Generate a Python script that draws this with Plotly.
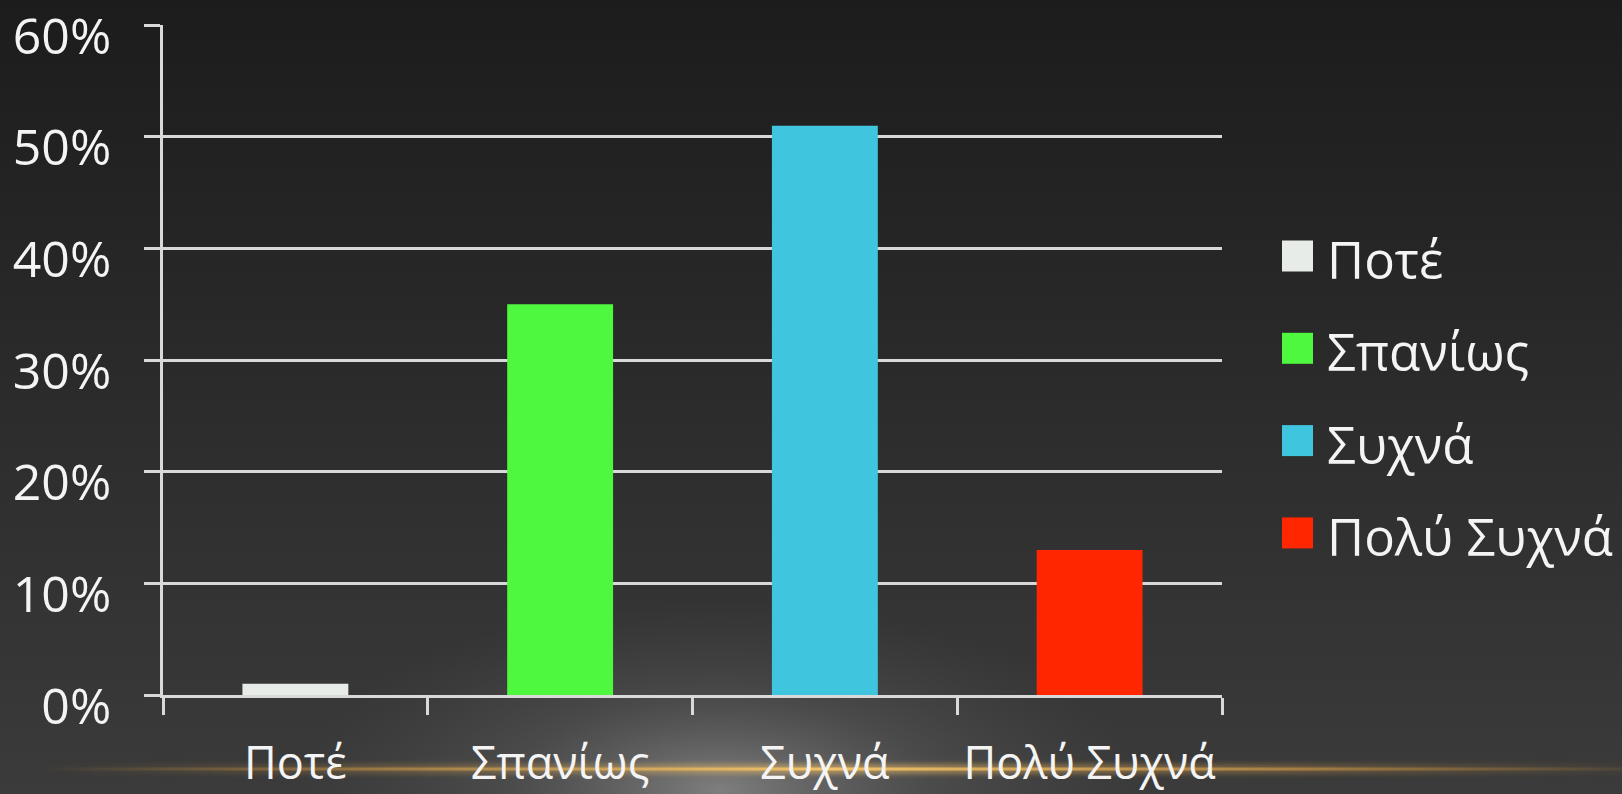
import base64
import plotly.graph_objects as go

# ---- data ----
categories = ["Ποτέ", "Σπανίως", "Συχνά", "Πολύ Συχνά"]
values = [0.01, 0.35, 0.51, 0.13]
colors = ["#e8ece8", "#4ef83e", "#40c5de", "#ff2600"]
y_ticks = [0, 0.1, 0.2, 0.3, 0.4, 0.5, 0.6]

W, H = 1622, 794
L, R, T, B = 163, 400, 25, 99
PW, PH = W - L - R, H - T - B

FONT = "Open Sans, Noto Sans, DejaVu Sans, sans-serif"
TXT = "#f4f4f4"
LINE = "#d9d9d9"

# ---- background (svg gradient) ----
svg = f'''<svg xmlns="http://www.w3.org/2000/svg" width="{W}" height="{H}" viewBox="0 0 {W} {H}">
<defs>
<linearGradient id="v" x1="0" y1="0" x2="0" y2="1">
<stop offset="0" stop-color="#1c1c1c"/>
<stop offset="0.55" stop-color="#2d2d2d"/>
<stop offset="1" stop-color="#3b3b3b"/>
</linearGradient>
<radialGradient id="g" cx="720" cy="790" r="420" gradientUnits="userSpaceOnUse" gradientTransform="translate(720 790) scale(1 0.45) translate(-720 -790)">
<stop offset="0" stop-color="#8a8a8a" stop-opacity="0.85"/>
<stop offset="0.5" stop-color="#6a6a6a" stop-opacity="0.35"/>
<stop offset="1" stop-color="#555555" stop-opacity="0"/>
</radialGradient>
<linearGradient id="s" x1="0" y1="0" x2="1" y2="0">
<stop offset="0" stop-color="#c08a3a" stop-opacity="0"/>
<stop offset="0.2" stop-color="#c99547" stop-opacity="0.5"/>
<stop offset="0.5" stop-color="#f2c36a" stop-opacity="1"/>
<stop offset="0.8" stop-color="#c99547" stop-opacity="0.6"/>
<stop offset="1" stop-color="#c08a3a" stop-opacity="0.1"/>
</linearGradient>
<filter id="b" x="-5%" y="-300%" width="110%" height="700%"><feGaussianBlur stdDeviation="2.5"/></filter>
</defs>
<rect width="{W}" height="{H}" fill="url(#v)"/>
<rect width="{W}" height="{H}" fill="url(#g)"/>
<rect x="40" y="764" width="1582" height="10" fill="url(#s)" opacity="0.55" filter="url(#b)"/>
<rect x="40" y="767.5" width="1582" height="3" fill="url(#s)"/>
</svg>'''
bg_src = "data:image/svg+xml;base64," + base64.b64encode(svg.encode()).decode()

fig = go.Figure()
fig.add_trace(go.Bar(
    x=categories, y=values,
    marker=dict(color=colors, line=dict(width=0)),
    showlegend=False, hoverinfo="x+y",
))

fig.update_layout(
    width=W, height=H,
    margin=dict(l=L, r=R, t=T, b=B, pad=0, autoexpand=False),
    paper_bgcolor="#2a2a2a",
    plot_bgcolor="rgba(0,0,0,0)",
    bargap=0.6,
    font=dict(family=FONT, size=48, color=TXT),
    images=[dict(
        source=bg_src, xref="paper", yref="paper",
        x=-L / PW, y=1 + T / PH, sizex=W / PW, sizey=H / PH,
        xanchor="left", yanchor="top", sizing="stretch", layer="below",
    )],
)

fig.update_yaxes(
    range=[0, 0.6002], tickvals=y_ticks, tickformat=".0%",
    showgrid=True, gridcolor=LINE, gridwidth=2.5,
    zeroline=False, showline=True, linecolor=LINE, linewidth=2.5,
    ticks="outside", ticklen=16, tickwidth=2.5, tickcolor=LINE,
    ticklabelstandoff=23, ticklabelshift=11,
    automargin=False, ticklabeloverflow="allow",
    tickfont=dict(family=FONT, size=50, color=TXT),
)
fig.update_xaxes(
    showline=True, linecolor=LINE, linewidth=2.5,
    ticks="outside", ticklen=17, tickwidth=2.5, tickcolor=LINE,
    tickson="boundaries", showgrid=False, tickangle=0,
    ticklabelstandoff=27, automargin=False, ticklabeloverflow="allow",
    tickfont=dict(family=FONT, size=45, color=TXT),
)

# ---- manual legend (large square swatches) ----
leg_x0, leg_sq = 1282, 31
leg_y0, leg_step = 256, 92.3
for i, (name, col) in enumerate(zip(categories, colors)):
    cy = leg_y0 + i * leg_step
    fig.add_shape(
        type="rect", xref="paper", yref="paper", layer="above",
        x0=(leg_x0 - L) / PW, x1=(leg_x0 + leg_sq - L) / PW,
        y0=(H - B - (cy - leg_sq / 2)) / PH, y1=(H - B - (cy + leg_sq / 2)) / PH,
        fillcolor=col, line=dict(width=0),
    )
    fig.add_annotation(
        xref="paper", yref="paper", x=(1325 - L) / PW, y=(H - B - cy - 3) / PH,
        text=name, showarrow=False, xanchor="left", yanchor="middle",
        font=dict(family=FONT, size=51, color=TXT),
    )

fig.write_html(
    "out.html",
    config={"displayModeBar": False},
    post_script="document.body.style.margin='0';document.documentElement.style.overflow='hidden';",
)
